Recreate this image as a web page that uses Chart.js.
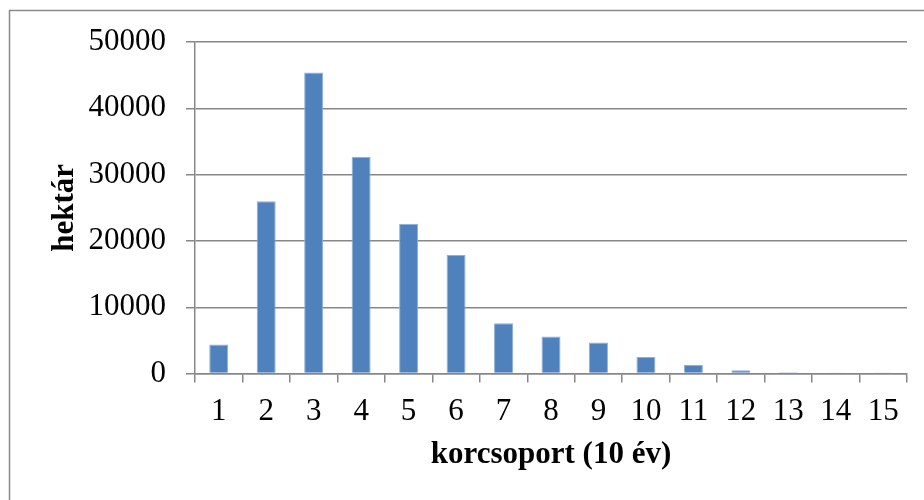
<!DOCTYPE html>
<html>
<head>
<meta charset="utf-8">
<script src="https://cdn.jsdelivr.net/npm/chart.js@4.4.1/dist/chart.umd.min.js"></script>
<style>
html,body{margin:0;padding:0;background:#fff;}
#wrap{width:924px;height:500px;position:relative;}
</style>
</head>
<body>
<div id="wrap"><canvas id="c" width="924" height="500"></canvas></div>
<script>
const categories = ['1','2','3','4','5','6','7','8','9','10','11','12','13','14','15'];
const hektar = [4400, 26000, 45400, 32700, 22600, 17900, 7600, 5600, 4700, 2500, 1300, 500, 200, 150, 20];
const yTicks = [0, 10000, 20000, 30000, 40000, 50000];

const FONT = '"Liberation Serif", "Times New Roman", serif';

const borderPlugin = {
  id: 'outerBorder',
  beforeDraw(chart) {
    const ctx = chart.ctx;
    ctx.save();
    ctx.fillStyle = '#fff';
    ctx.fillRect(0, 0, chart.width, chart.height);
    ctx.strokeStyle = '#8a8a8a';
    ctx.lineWidth = 1.5;
    ctx.strokeRect(9.5, 10.5, chart.width + 20, chart.height + 20);
    ctx.restore();
  }
};

new Chart(document.getElementById('c'), {
  type: 'bar',
  data: {
    labels: categories,
    datasets: [{
      data: hektar,
      backgroundColor: '#4F81BD',
      borderColor: '#8fb0d8',
      borderWidth: 1,
      categoryPercentage: 1.0,
      barPercentage: 0.4
    }]
  },
  options: {
    responsive: false,
    animation: false,
    devicePixelRatio: 1,
    layout: { padding: { left: 46, right: 17, top: 42, bottom: 26 } },
    plugins: { legend: { display: false }, tooltip: { enabled: false } },
    scales: {
      x: {
        offset: true,
        grid: { drawOnChartArea: false, drawTicks: true, tickLength: 9, color: '#878787', lineWidth: 1.5 },
        border: { display: true, color: '#878787', width: 1.5 },
        ticks: { color: '#000', font: { family: FONT, size: 31 }, padding: 11, maxRotation: 0, autoSkip: false },
        title: { display: true, text: 'korcsoport (10 év)', color: '#000', font: { family: FONT, size: 31, weight: 'bold' }, padding: { top: -5, bottom: 0 } }
      },
      y: {
        min: 0, max: 50000,
        afterFit(scale) { scale.width = 149; },
        afterBuildTicks(scale) { scale.ticks = yTicks.map(v => ({ value: v })); },
        grid: { drawTicks: true, tickLength: 9, color: '#878787', lineWidth: 1.5 },
        border: { display: true, color: '#878787', width: 1.5 },
        ticks: { color: '#000', font: { family: FONT, size: 31 }, padding: 20, callback: v => String(v) },
        title: { display: true, text: 'hektár', color: '#000', font: { family: FONT, size: 31, weight: 'bold' }, padding: 0 }
      }
    }
  },
  plugins: [borderPlugin]
});
</script>
</body>
</html>
